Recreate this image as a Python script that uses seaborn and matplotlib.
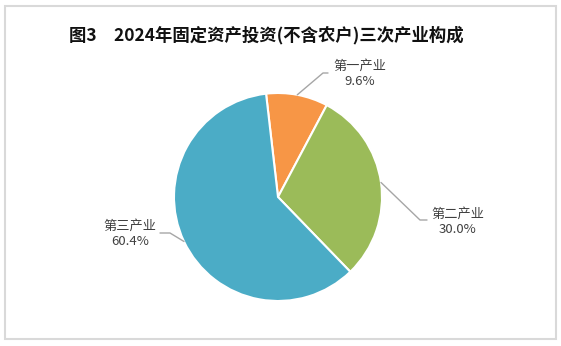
import numpy as np
import matplotlib
matplotlib.use("Agg")
import matplotlib.pyplot as plt
import seaborn as sns
from matplotlib.patches import Rectangle

categories = ["第一产业", "第二产业", "第三产业"]
values = [9.6, 30.0, 60.4]
pct_labels = ["9.6%", "30.0%", "60.4%"]
title = "图3　2024年固定资产投资(不含农户)三次产业构成"

sns.set_theme(style="white")
plt.rcParams['font.family'] = ['Noto Sans CJK SC', 'DejaVu Sans']
colors = sns.color_palette(["#F79646", "#9BBB59", "#4BACC6"])

W, H = 561, 346
fig = plt.figure(figsize=(W / 100, H / 100), dpi=100)
ax = fig.add_axes([0, 0, 1, 1])

cx, cy, r = 278, 149, 104
start = 96.6
wedges, _ = ax.pie(values, colors=colors, startangle=start, counterclock=False,
                   center=(cx, cy), radius=r, frame=True,
                   wedgeprops=dict(edgecolor='white', linewidth=1.5))
ax.set_xlim(0, W)
ax.set_ylim(0, H)
ax.set_aspect('equal')
ax.axis('off')

# label layout: (elbow point, end point, text center x, first row y)
layout = [
    ((323, 273), (328, 273), 360, 280),
    ((420, 126), (427, 126), 458, 132),
    ((170, 113), (160, 113), 130, 120),
]
for i, w in enumerate(wedges):
    mid = np.deg2rad((w.theta1 + w.theta2) / 2)
    px, py = cx + r * np.cos(mid), cy + r * np.sin(mid)
    (ex, ey), (tx, ty), lx, ly = layout[i]
    ax.plot([px, ex, tx], [py, ey, ty], color='#a6a6a6', lw=1.0)
    ax.text(lx, ly, categories[i], ha='center', va='center', fontsize=9.5, color='#404040')
    ax.text(lx, ly - 15.5, pct_labels[i], ha='center', va='center', fontsize=9.5, color='#404040')

fig.text(266 / W, 1 - 35 / H, title, ha='center', va='center', fontsize=12.5,
         fontweight='bold', color='#111111')

fig.patches.append(Rectangle((5 / W, 1 - 339 / H), 551 / W, 333 / H, transform=fig.transFigure,
                             fill=False, edgecolor='#d9d9d9', lw=1.5))

fig.savefig("out.png", dpi=100)
